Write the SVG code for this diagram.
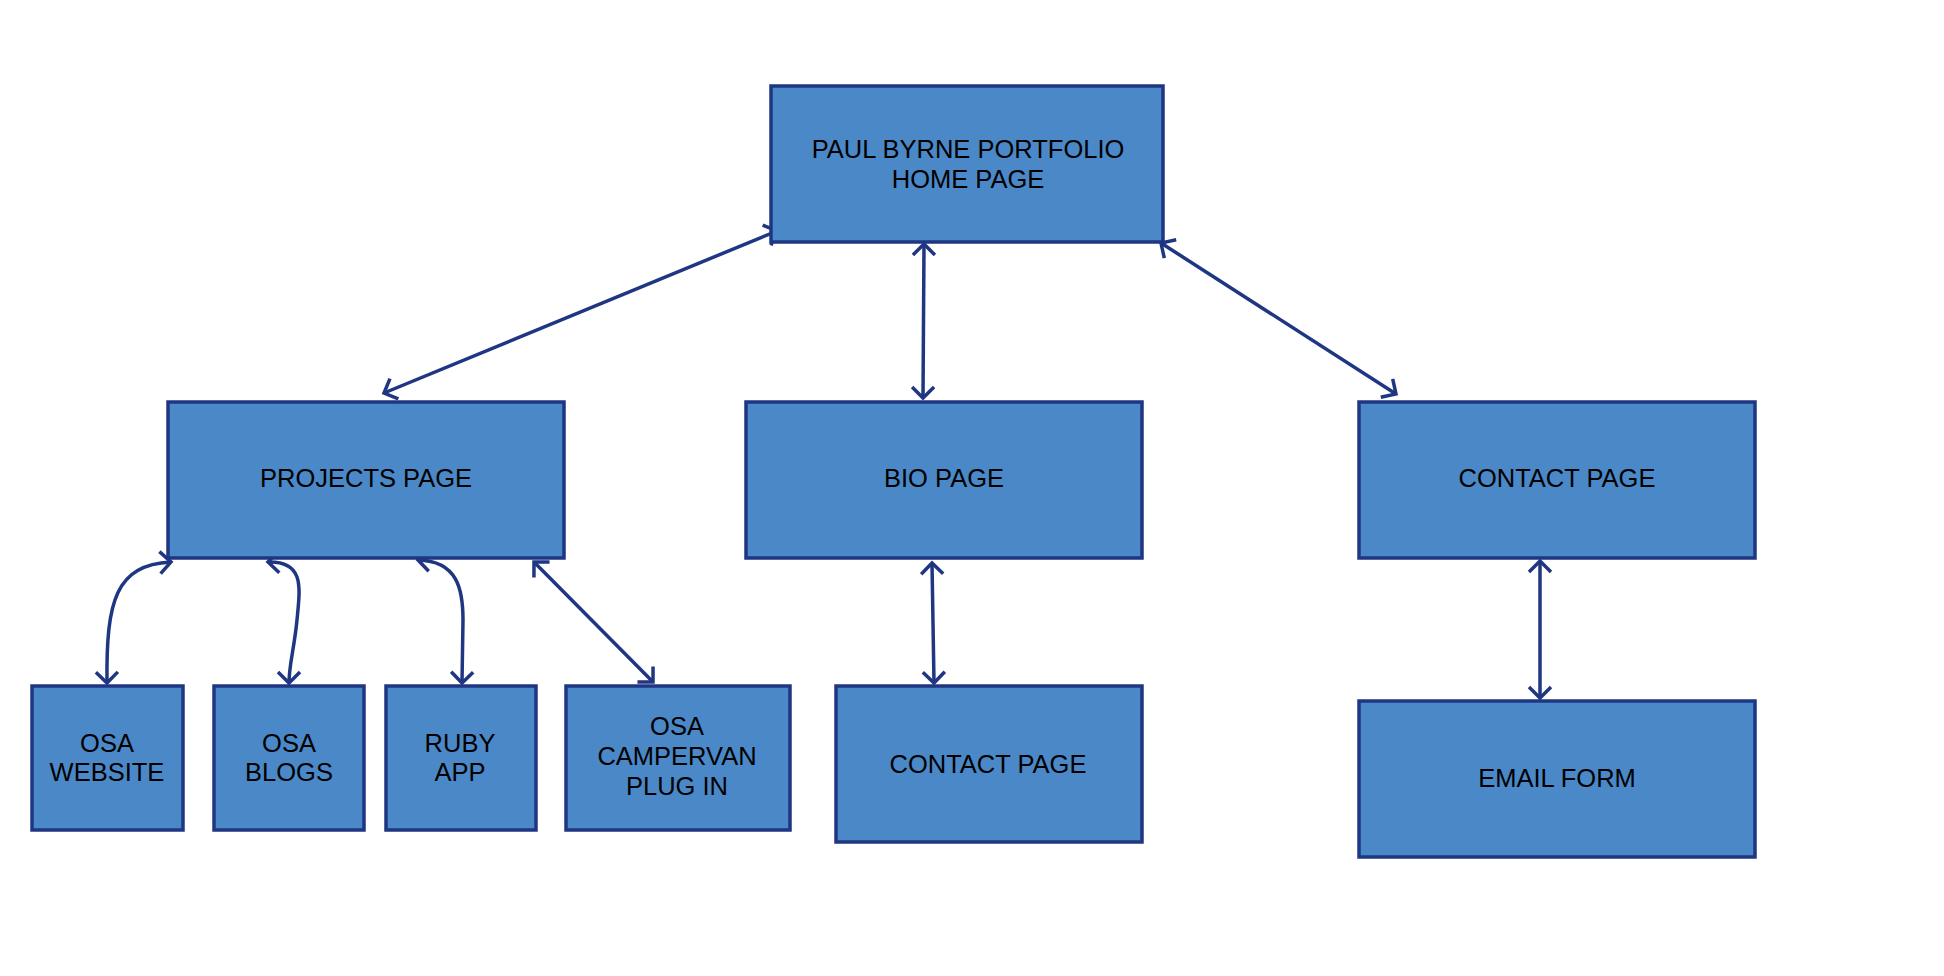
<svg xmlns="http://www.w3.org/2000/svg" width="1944" height="976" viewBox="0 0 1944 976">
<style>
.box{fill:#4a88c8;stroke:#1f3682;stroke-width:3.5}
.lbl{font-family:"Liberation Sans",Arial,sans-serif;font-size:25.5px;fill:#000;text-anchor:middle}
.con{fill:none;stroke:#1f3682;stroke-width:3.5;marker-start:url(#ah);marker-end:url(#ah)}
</style>
<defs>
<marker id="ah" viewBox="-14 -14 28 28" refX="0" refY="0" markerWidth="28" markerHeight="28" markerUnits="userSpaceOnUse" orient="auto-start-reverse" overflow="visible">
<path d="M-11,-11 L0,0 L-11,11" fill="none" stroke="#1f3682" stroke-width="3.5"/>
</marker>
</defs>
<rect width="1944" height="976" fill="#fff"/>
<g id="connectors">
<path class="con" d="M777,231 L384,393"/>
<path class="con" d="M924,244 L923,398"/>
<path class="con" d="M1161,243 L1396,394"/>
<path class="con" d="M932,563 L934,683"/>
<path class="con" d="M1540,561 L1540,698"/>
<path class="con" d="M171,562 C116,565 106,600 107,683"/>
<path class="con" d="M268,562 C305,561 300,588 297,620 C294,650 289,665 289,683"/>
<path class="con" d="M418,560 C458,561 463,590 463,620 L462,683"/>
<path class="con" d="M534,562 L653,682"/>
</g>
<g id="home"><rect class="box" x="771" y="86" width="392" height="156"/>
<text class="lbl" x="968" y="158">PAUL BYRNE PORTFOLIO</text><text class="lbl" x="968" y="188">HOME PAGE</text></g>
<g id="projects"><rect class="box" x="168" y="402" width="396" height="156"/>
<text class="lbl" x="366" y="487">PROJECTS PAGE</text></g>
<g id="bio"><rect class="box" x="746" y="402" width="396" height="156"/>
<text class="lbl" x="944" y="487">BIO PAGE</text></g>
<g id="contact"><rect class="box" x="1359" y="402" width="396" height="156"/>
<text class="lbl" x="1557" y="487">CONTACT PAGE</text></g>
<g id="osa-website"><rect class="box" x="32" y="686" width="151" height="144"/>
<text class="lbl" x="107" y="752">OSA</text><text class="lbl" x="107" y="781">WEBSITE</text></g>
<g id="osa-blogs"><rect class="box" x="214" y="686" width="150" height="144"/>
<text class="lbl" x="289" y="752">OSA</text><text class="lbl" x="289" y="781">BLOGS</text></g>
<g id="ruby-app"><rect class="box" x="386" y="686" width="150" height="144"/>
<text class="lbl" x="460" y="752">RUBY</text><text class="lbl" x="460" y="781">APP</text></g>
<g id="osa-campervan"><rect class="box" x="566" y="686" width="224" height="144"/>
<text class="lbl" x="677" y="735">OSA</text><text class="lbl" x="677" y="765">CAMPERVAN</text><text class="lbl" x="677" y="795">PLUG IN</text></g>
<g id="bio-contact"><rect class="box" x="836" y="686" width="306" height="156"/>
<text class="lbl" x="988" y="773">CONTACT PAGE</text></g>
<g id="email-form"><rect class="box" x="1359" y="701" width="396" height="156"/>
<text class="lbl" x="1557" y="787">EMAIL FORM</text></g>
</svg>
